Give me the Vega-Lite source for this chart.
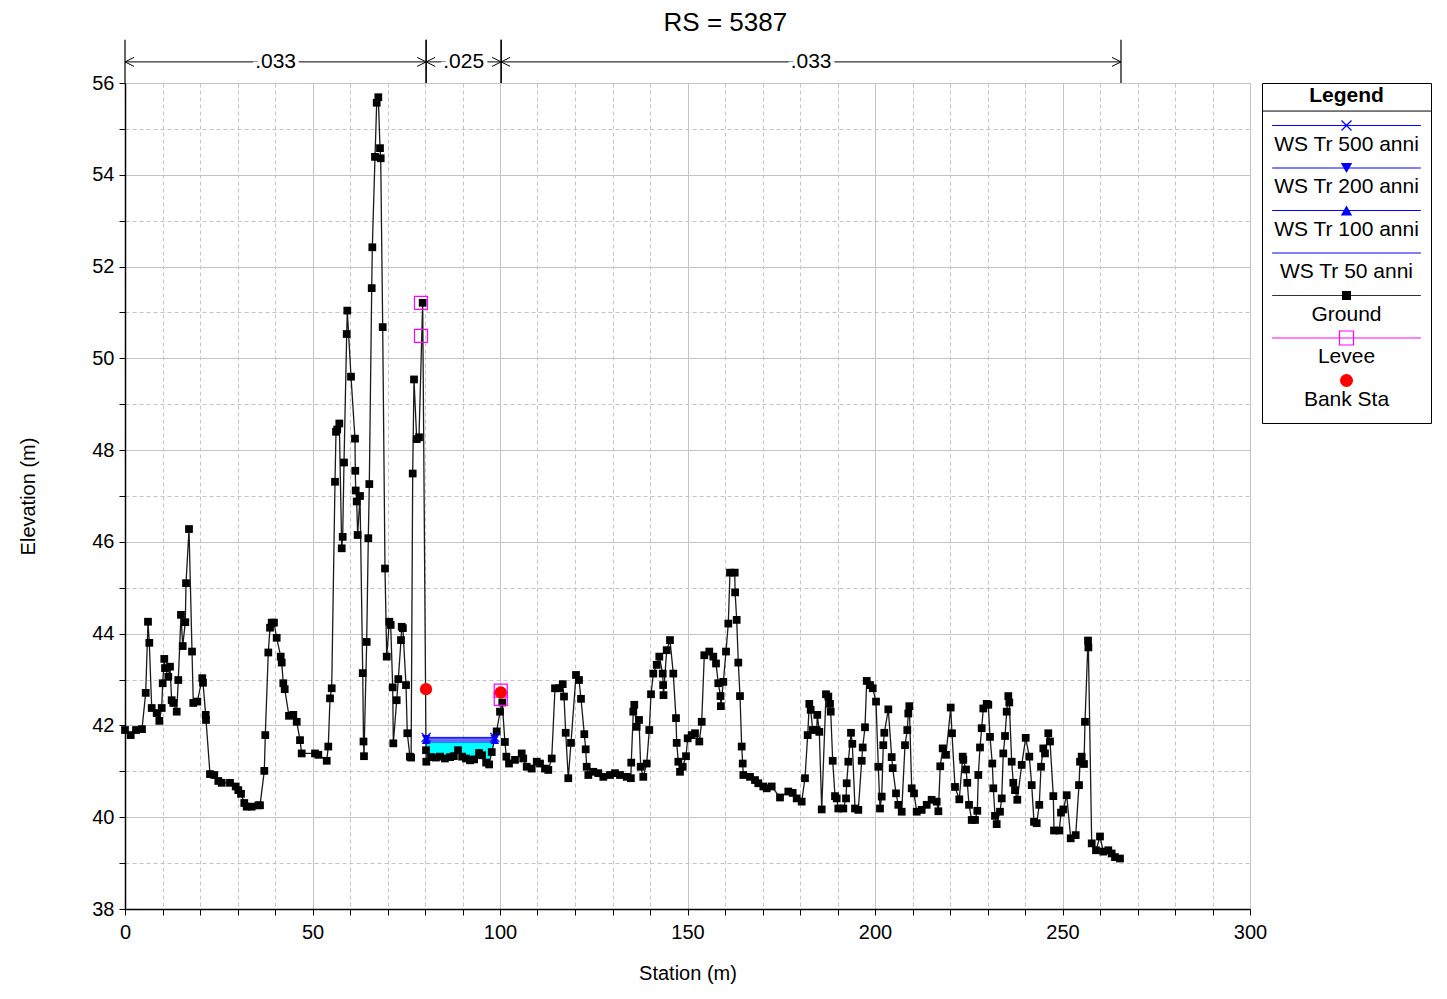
{
 "$schema": "https://vega.github.io/schema/vega-lite/v6.json",
 "background": "white",
 "padding": {"left": 18, "top": 10, "right": 5, "bottom": 5},
 "title": {"text": "RS = 5387", "fontSize": 26, "font": "Liberation Sans", "fontWeight": "normal", "anchor": "middle", "color": "black", "offset": 3},
 "config": {"font": "Liberation Sans", "view": {"stroke": null}},
 "datasets": {
  "ground": [
   {"s":0,"e":41.9},{"s":1.52,"e":41.79},{"s":2.93,"e":41.9},{"s":4.53,"e":41.92},{"s":5.52,"e":42.71},{"s":6.13,"e":44.26},{"s":6.48,"e":43.8},{"s":7.12,"e":42.38},{"s":8.45,"e":42.27},{"s":9.15,"e":42.1},{"s":9.79,"e":42.38},{"s":10.05,"e":42.92},{"s":10.48,"e":43.45},{"s":10.67,"e":43.25},{"s":11.55,"e":43.06},{"s":12.0,"e":43.28},{"s":12.45,"e":42.55},{"s":12.88,"e":42.49},{"s":13.79,"e":42.3},{"s":14.21,"e":42.99},{"s":14.93,"e":44.41},{"s":15.39,"e":43.73},{"s":16.08,"e":44.25},{"s":16.27,"e":45.1},{"s":17.07,"e":46.28},{"s":17.87,"e":43.61},{"s":18.21,"e":42.49},{"s":19.28,"e":42.52},{"s":20.61,"e":43.03},{"s":20.8,"e":42.93},{"s":21.52,"e":42.23},{"s":21.6,"e":42.12},{"s":22.67,"e":40.94},{"s":23.81,"e":40.92},{"s":24.88,"e":40.79},{"s":25.79,"e":40.75},{"s":28.0,"e":40.75},{"s":29.52,"e":40.67},{"s":30.21,"e":40.59},{"s":30.93,"e":40.51},{"s":31.81,"e":40.31},{"s":32.45,"e":40.23},{"s":33.79,"e":40.23},{"s":35.55,"e":40.26},{"s":36.0,"e":40.26},{"s":37.15,"e":41.01},{"s":37.41,"e":41.79},{"s":38.21,"e":43.59},{"s":38.67,"e":44.13},{"s":39.12,"e":44.24},{"s":39.73,"e":44.24},{"s":40.45,"e":43.91},{"s":41.52,"e":43.5},{"s":41.79,"e":43.37},{"s":42.21,"e":42.92},{"s":42.59,"e":42.79},{"s":43.73,"e":42.21},{"s":44.88,"e":42.23},{"s":45.79,"e":42.08},{"s":46.67,"e":41.68},{"s":47.12,"e":41.39},{"s":50.67,"e":41.39},{"s":51.55,"e":41.36},{"s":53.79,"e":41.23},{"s":54.21,"e":41.54},{"s":54.67,"e":42.59},{"s":55.12,"e":42.81},{"s":56.0,"e":47.31},{"s":56.27,"e":48.4},{"s":56.6,"e":48.45},{"s":57.15,"e":48.58},{"s":57.79,"e":45.86},{"s":58.05,"e":46.11},{"s":58.4,"e":47.73},{"s":59.12,"e":50.53},{"s":59.28,"e":51.04},{"s":60.27,"e":49.6},{"s":61.33,"e":48.25},{"s":61.41,"e":47.55},{"s":61.52,"e":47.12},{"s":61.79,"e":46.88},{"s":62.04,"e":46.15},{"s":62.67,"e":47.0},{"s":63.39,"e":43.14},{"s":63.6,"e":41.65},{"s":63.73,"e":41.33},{"s":64.45,"e":43.82},{"s":64.88,"e":46.08},{"s":65.15,"e":47.26},{"s":65.79,"e":51.53},{"s":65.95,"e":52.42},{"s":66.67,"e":54.39},{"s":67.12,"e":55.57},{"s":67.55,"e":55.69},{"s":68.0,"e":54.58},{"s":68.19,"e":54.36},{"s":68.72,"e":50.68},{"s":69.33,"e":45.42},{"s":69.79,"e":43.5},{"s":70.48,"e":44.26},{"s":70.85,"e":44.19},{"s":71.39,"e":42.83},{"s":71.55,"e":41.61},{"s":72.45,"e":42.55},{"s":72.88,"e":43.01},{"s":73.6,"e":43.86},{"s":73.79,"e":44.15},{"s":74.1,"e":44.12},{"s":74.93,"e":42.88},{"s":75.28,"e":41.83},{"s":75.98,"e":41.32},{"s":76.3,"e":41.3},{"s":76.72,"e":47.49},{"s":77.07,"e":49.54},{"s":77.79,"e":48.24},{"s":78.4,"e":48.28},{"s":79.38,"e":51.21},{"s":80.27,"e":41.46},{"s":80.35,"e":41.21},{"s":81.6,"e":41.31},{"s":82.9,"e":41.3},{"s":84.0,"e":41.32},{"s":85.3,"e":41.28},{"s":86.7,"e":41.31},{"s":87.7,"e":41.33},{"s":88.8,"e":41.46},{"s":89.9,"e":41.32},{"s":90.9,"e":41.28},{"s":92.0,"e":41.24},{"s":93.1,"e":41.26},{"s":94.4,"e":41.4},{"s":95.2,"e":41.35},{"s":96.3,"e":41.19},{"s":97.1,"e":41.15},{"s":97.8,"e":41.42},{"s":99.1,"e":41.87},{"s":100.0,"e":42.3},{"s":100.6,"e":42.5},{"s":101.3,"e":41.64},{"s":101.7,"e":41.32},{"s":102.4,"e":41.17},{"s":104.0,"e":41.25},{"s":105.79,"e":41.39},{"s":106.2,"e":41.28},{"s":107.12,"e":41.1},{"s":108.45,"e":41.06},{"s":109.79,"e":41.21},{"s":110.67,"e":41.17},{"s":112.0,"e":41.06},{"s":112.88,"e":41.03},{"s":113.79,"e":41.28},{"s":114.67,"e":42.81},{"s":115.81,"e":42.81},{"s":116.72,"e":42.9},{"s":117.07,"e":42.63},{"s":117.52,"e":41.84},{"s":118.21,"e":40.85},{"s":118.93,"e":41.62},{"s":120.27,"e":43.1},{"s":121.07,"e":42.99},{"s":121.6,"e":42.58},{"s":122.48,"e":41.81},{"s":122.85,"e":41.48},{"s":123.12,"e":41.1},{"s":123.55,"e":40.92},{"s":124.88,"e":40.99},{"s":126.21,"e":40.96},{"s":127.55,"e":40.88},{"s":129.33,"e":40.92},{"s":130.67,"e":40.96},{"s":132.0,"e":40.92},{"s":133.79,"e":40.88},{"s":134.9,"e":40.85},{"s":135.0,"e":41.19},{"s":135.55,"e":42.3},{"s":135.81,"e":42.45},{"s":136.45,"e":41.97},{"s":137.07,"e":42.12},{"s":137.52,"e":41.1},{"s":138.21,"e":40.88},{"s":139.12,"e":41.17},{"s":139.81,"e":41.9},{"s":140.27,"e":42.68},{"s":140.88,"e":43.13},{"s":141.79,"e":43.32},{"s":142.48,"e":43.5},{"s":143.39,"e":43.13},{"s":143.5,"e":42.88},{"s":143.6,"e":42.66},{"s":144.45,"e":43.64},{"s":145.33,"e":43.86},{"s":146.21,"e":43.13},{"s":146.93,"e":42.16},{"s":147.12,"e":41.62},{"s":147.55,"e":41.21},{"s":148.0,"e":40.99},{"s":148.72,"e":41.1},{"s":149.6,"e":41.33},{"s":150.05,"e":41.72},{"s":151.12,"e":41.79},{"s":152.0,"e":41.83},{"s":153.15,"e":41.65},{"s":153.79,"e":42.08},{"s":154.48,"e":43.53},{"s":155.81,"e":43.61},{"s":156.88,"e":43.5},{"s":157.6,"e":43.35},{"s":158.21,"e":42.92},{"s":158.8,"e":42.64},{"s":158.9,"e":42.42},{"s":159.55,"e":42.95},{"s":160.27,"e":43.61},{"s":160.88,"e":44.22},{"s":161.33,"e":45.33},{"s":162.6,"e":45.33},{"s":162.7,"e":44.9},{"s":163.12,"e":44.3},{"s":163.55,"e":43.37},{"s":164.0,"e":42.64},{"s":164.45,"e":41.54},{"s":164.72,"e":41.17},{"s":164.88,"e":40.92},{"s":166.67,"e":40.88},{"s":168.0,"e":40.81},{"s":168.88,"e":40.74},{"s":170.21,"e":40.67},{"s":171.12,"e":40.63},{"s":172.45,"e":40.67},{"s":174.67,"e":40.43},{"s":176.88,"e":40.56},{"s":178.05,"e":40.53},{"s":179.12,"e":40.41},{"s":180.45,"e":40.34},{"s":181.33,"e":40.85},{"s":182.05,"e":41.79},{"s":182.48,"e":42.47},{"s":182.85,"e":42.34},{"s":183.39,"e":41.9},{"s":184.45,"e":41.9},{"s":184.61,"e":42.23},{"s":185.15,"e":41.86},{"s":185.79,"e":40.17},{"s":186.93,"e":42.68},{"s":187.55,"e":42.63},{"s":188.0,"e":42.47},{"s":188.19,"e":42.3},{"s":188.72,"e":41.23},{"s":189.33,"e":40.46},{"s":189.79,"e":40.41},{"s":190.21,"e":40.19},{"s":191.55,"e":40.19},{"s":192.27,"e":40.41},{"s":192.45,"e":40.74},{"s":192.88,"e":41.21},{"s":193.6,"e":41.84},{"s":193.95,"e":41.6},{"s":194.67,"e":40.19},{"s":195.55,"e":40.16},{"s":196.45,"e":41.23},{"s":196.72,"e":41.52},{"s":197.33,"e":41.96},{"s":197.79,"e":42.97},{"s":198.67,"e":42.88},{"s":199.39,"e":42.81},{"s":200.27,"e":42.52},{"s":200.88,"e":41.1},{"s":201.33,"e":40.19},{"s":201.79,"e":40.45},{"s":202.21,"e":41.57},{"s":202.48,"e":41.84},{"s":203.55,"e":42.35},{"s":204.45,"e":41.31},{"s":204.72,"e":41.07},{"s":205.6,"e":40.52},{"s":206.21,"e":40.27},{"s":207.12,"e":40.12},{"s":208.0,"e":41.57},{"s":208.61,"e":41.9},{"s":208.88,"e":42.26},{"s":209.15,"e":42.42},{"s":209.79,"e":40.63},{"s":210.4,"e":40.52},{"s":211.12,"e":40.12},{"s":212.45,"e":40.16},{"s":213.79,"e":40.27},{"s":215.1,"e":40.38},{"s":216.45,"e":40.34},{"s":216.9,"e":40.13},{"s":217.4,"e":41.11},{"s":218.05,"e":41.5},{"s":218.93,"e":41.36},{"s":220.19,"e":42.39},{"s":220.53,"e":41.83},{"s":221.33,"e":40.66},{"s":222.48,"e":40.39},{"s":223.39,"e":41.32},{"s":223.55,"e":41.25},{"s":224.27,"e":41.04},{"s":224.61,"e":40.75},{"s":225.07,"e":40.27},{"s":225.79,"e":39.94},{"s":226.67,"e":39.94},{"s":227.28,"e":40.14},{"s":227.55,"e":40.92},{"s":228.0,"e":41.52},{"s":228.45,"e":41.94},{"s":228.88,"e":42.37},{"s":229.79,"e":42.47},{"s":230.21,"e":42.45},{"s":230.67,"e":41.75},{"s":231.28,"e":41.17},{"s":231.55,"e":40.63},{"s":232.0,"e":40.03},{"s":232.45,"e":39.85},{"s":233.33,"e":40.12},{"s":233.79,"e":40.41},{"s":234.21,"e":41.39},{"s":234.67,"e":41.77},{"s":235.12,"e":42.3},{"s":235.55,"e":42.64},{"s":235.81,"e":42.5},{"s":236.45,"e":41.21},{"s":236.88,"e":40.75},{"s":237.33,"e":40.59},{"s":237.95,"e":40.38},{"s":239.12,"e":41.14},{"s":240.19,"e":41.73},{"s":241.15,"e":41.32},{"s":241.79,"e":40.7},{"s":242.4,"e":39.9},{"s":243.12,"e":39.87},{"s":243.81,"e":40.27},{"s":244.27,"e":41.1},{"s":244.88,"e":41.5},{"s":245.33,"e":41.39},{"s":246.21,"e":41.83},{"s":246.67,"e":41.65},{"s":247.55,"e":40.46},{"s":247.73,"e":39.71},{"s":249.15,"e":39.71},{"s":249.6,"e":40.1},{"s":250.21,"e":40.17},{"s":251.12,"e":40.48},{"s":252.19,"e":39.54},{"s":253.52,"e":39.61},{"s":254.4,"e":40.7},{"s":254.67,"e":41.21},{"s":255.12,"e":41.32},{"s":255.73,"e":41.16},{"s":256.0,"e":42.08},{"s":256.8,"e":43.85},{"s":256.9,"e":43.7},{"s":257.79,"e":39.43},{"s":258.93,"e":39.28},{"s":260.0,"e":39.58},{"s":260.88,"e":39.25},{"s":262.21,"e":39.28},{"s":263.12,"e":39.21},{"s":264.0,"e":39.13},{"s":265.33,"e":39.1}
  ],
  "water": [
   {"s":80.3,"e":41.21,"ws":41.64},{"s":81.6,"e":41.31,"ws":41.64},{"s":82.9,"e":41.3,"ws":41.64},{"s":84.0,"e":41.32,"ws":41.64},{"s":85.3,"e":41.28,"ws":41.64},{"s":86.7,"e":41.31,"ws":41.64},{"s":87.7,"e":41.33,"ws":41.64},{"s":88.8,"e":41.46,"ws":41.64},{"s":89.9,"e":41.32,"ws":41.64},{"s":90.9,"e":41.28,"ws":41.64},{"s":92.0,"e":41.24,"ws":41.64},{"s":93.1,"e":41.26,"ws":41.64},{"s":94.4,"e":41.4,"ws":41.64},{"s":95.2,"e":41.35,"ws":41.64},{"s":96.3,"e":41.19,"ws":41.64},{"s":97.1,"e":41.15,"ws":41.64},{"s":97.8,"e":41.42,"ws":41.64},{"s":98.5,"e":41.64,"ws":41.64}
  ],
  "ws": [
   {"p":"WS Tr 500 anni","s":80.3,"s2":98.6,"e":41.74},
   {"p":"WS Tr 200 anni","s":80.3,"s2":98.6,"e":41.71},
   {"p":"WS Tr 100 anni","s":80.3,"s2":98.6,"e":41.68},
   {"p":"WS Tr 50 anni","s":80.3,"s2":98.5,"e":41.64}
  ],
  "levee": [{"s":78.93,"e":51.21},{"s":78.93,"e":50.49},{"s":100.2,"e":42.76},{"s":100.2,"e":42.58}],
  "bank": [{"s":80.27,"e":42.79},{"s":100.2,"e":42.72}],
  "nvals": [{"s":0,"s2":80.3,"n":".033"},{"s":80.3,"s2":100.3,"n":".025"},{"s":100.3,"s2":265.6,"n":".033"}],
  "legend": [
   {"label":"WS Tr 500 anni","row":0},{"label":"WS Tr 200 anni","row":1},{"label":"WS Tr 100 anni","row":2},{"label":"WS Tr 50 anni","row":3},{"label":"Ground","row":4},{"label":"Levee","row":5},{"label":"Bank Sta","row":6}
  ]
 },
 "hconcat": [
  {
   "width": 1125,
   "height": 826,
   "layer": [
    {
     "data": {"name": "water"},
     "mark": {"type": "area", "color": "#00ffff", "opacity": 1},
     "encoding": {
      "x": {"field": "s", "type": "quantitative", "title": "Station (m)", "scale": {"domain": [0, 300], "nice": false, "zero": false}},
      "y": {"field": "ws", "type": "quantitative", "title": "Elevation (m)", "scale": {"domain": [38, 56], "nice": false, "zero": false}},
      "y2": {"field": "e"}
     }
    },
    {
     "data": {"name": "ws"},
     "mark": {"type": "rule", "color": "#0000ff", "strokeWidth": 1},
     "encoding": {
      "x": {"field": "s", "type": "quantitative", "title": "Station (m)", "scale": {"domain": [0, 300], "nice": false, "zero": false}},
      "x2": {"field": "s2"},
      "y": {"field": "e", "type": "quantitative", "title": "Elevation (m)", "scale": {"domain": [38, 56], "nice": false, "zero": false}}
     }
    },
    {
     "data": {"name": "ground"},
     "mark": {"type": "line", "color": "#1a1a1a", "strokeWidth": 1.3},
     "encoding": {
      "x": {"field": "s", "type": "quantitative", "title": "Station (m)", "scale": {"domain": [0, 300], "nice": false, "zero": false},
       "axis": {"values": [0,10,20,30,40,50,60,70,80,90,100,110,120,130,140,150,160,170,180,190,200,210,220,230,240,250,260,270,280,290,300],
        "tickCount": 100, "format": "d",
        "labelExpr": "datum.value % 50 === 0 ? datum.label : ''",
        "grid": true, "gridColor": "#c4c4c4", "gridWidth": 1,
        "gridDash": {"condition": {"test": "datum.value % 50 === 0", "value": []}, "value": [4, 3]},
        "domainColor": "#000000", "domainWidth": 1.5, "tickColor": "#000000", "tickSize": 6,
        "labelFontSize": 20, "labelColor": "#000000", "labelPadding": 7, "labelFlush": false, "labelOverlap": false, "labelFont": "Liberation Sans",
        "title": "Station (m)", "titleFontSize": 20, "titleFontWeight": "normal", "titleColor": "#000000", "titlePadding": 21, "titleFont": "Liberation Sans"}},
      "y": {"field": "e", "type": "quantitative", "title": "Elevation (m)", "scale": {"domain": [38, 56], "nice": false, "zero": false},
       "axis": {"values": [38,39,40,41,42,43,44,45,46,47,48,49,50,51,52,53,54,55,56],
        "tickCount": 100, "format": "d",
        "labelExpr": "datum.value % 2 === 0 ? datum.label : ''",
        "grid": true, "gridColor": "#c4c4c4", "gridWidth": 1,
        "gridDash": {"condition": {"test": "datum.value % 2 === 0", "value": []}, "value": [4, 3]},
        "domainColor": "#000000", "domainWidth": 1.5, "tickColor": "#000000", "tickSize": 6,
        "labelFontSize": 20, "labelColor": "#000000", "labelPadding": 5, "labelOverlap": false, "labelFont": "Liberation Sans",
        "title": "Elevation (m)", "titleFontSize": 20, "titleFontWeight": "normal", "titleColor": "#000000", "titlePadding": 53, "titleFont": "Liberation Sans"}}
     }
    },
    {
     "data": {"name": "ground"},
     "mark": {"type": "point", "shape": "square", "filled": true, "color": "#000000", "size": 60, "opacity": 1},
     "encoding": {
      "x": {"field": "s", "type": "quantitative", "title": "Station (m)", "scale": {"domain": [0, 300], "nice": false, "zero": false}},
      "y": {"field": "e", "type": "quantitative", "title": "Elevation (m)", "scale": {"domain": [38, 56], "nice": false, "zero": false}}
     }
    },
    {
     "data": {"name": "ws"},
     "transform": [{"filter": "datum.p === 'WS Tr 500 anni'"}, {"fold": ["s", "s2"], "as": ["end", "sx"]}],
     "mark": {"type": "point", "shape": "M-1,-1L1,1M-1,1L1,-1", "filled": false, "stroke": "#0000ff", "strokeWidth": 1.4, "size": 81, "opacity": 1},
     "encoding": {
      "x": {"field": "sx", "type": "quantitative", "title": "Station (m)", "scale": {"domain": [0, 300], "nice": false, "zero": false}},
      "y": {"field": "e", "type": "quantitative", "title": "Elevation (m)", "scale": {"domain": [38, 56], "nice": false, "zero": false}}
     }
    },
    {
     "data": {"name": "ws"},
     "transform": [{"filter": "datum.p === 'WS Tr 200 anni' || datum.p === 'WS Tr 100 anni'"}, {"fold": ["s", "s2"], "as": ["end", "sx"]}],
     "mark": {"type": "point", "filled": true, "color": "#0000ff", "size": 75, "opacity": 1},
     "encoding": {
      "x": {"field": "sx", "type": "quantitative", "title": "Station (m)", "scale": {"domain": [0, 300], "nice": false, "zero": false}},
      "y": {"field": "e", "type": "quantitative", "title": "Elevation (m)", "scale": {"domain": [38, 56], "nice": false, "zero": false}},
      "shape": {"field": "p", "type": "nominal", "scale": {"domain": ["WS Tr 200 anni", "WS Tr 100 anni"], "range": ["triangle-down", "triangle-up"]}, "legend": null}
     }
    },
    {
     "data": {"name": "levee"},
     "mark": {"type": "point", "shape": "square", "filled": false, "stroke": "#ff00ff", "strokeWidth": 1.2, "size": 170, "opacity": 1},
     "encoding": {
      "x": {"field": "s", "type": "quantitative", "title": "Station (m)", "scale": {"domain": [0, 300], "nice": false, "zero": false}},
      "y": {"field": "e", "type": "quantitative", "title": "Elevation (m)", "scale": {"domain": [38, 56], "nice": false, "zero": false}}
     }
    },
    {
     "data": {"name": "bank"},
     "mark": {"type": "point", "shape": "circle", "filled": true, "color": "#ff0000", "size": 150, "opacity": 1},
     "encoding": {
      "x": {"field": "s", "type": "quantitative", "title": "Station (m)", "scale": {"domain": [0, 300], "nice": false, "zero": false}},
      "y": {"field": "e", "type": "quantitative", "title": "Elevation (m)", "scale": {"domain": [38, 56], "nice": false, "zero": false}}
     }
    },
    {
     "data": {"name": "nvals"},
     "mark": {"type": "rule", "color": "#000000", "strokeWidth": 1.2},
     "encoding": {
      "x": {"field": "s", "type": "quantitative", "title": "Station (m)", "scale": {"domain": [0, 300], "nice": false, "zero": false}},
      "y": {"datum": 56, "type": "quantitative", "title": "Elevation (m)", "scale": {"domain": [38, 56], "nice": false, "zero": false}},
      "y2": {"datum": 56.94}
     }
    },
    {
     "data": {"name": "nvals"},
     "mark": {"type": "rule", "color": "#000000", "strokeWidth": 1.2},
     "encoding": {
      "x": {"field": "s2", "type": "quantitative", "title": "Station (m)", "scale": {"domain": [0, 300], "nice": false, "zero": false}},
      "y": {"datum": 56, "type": "quantitative", "title": "Elevation (m)", "scale": {"domain": [38, 56], "nice": false, "zero": false}},
      "y2": {"datum": 56.94}
     }
    },
    {
     "data": {"name": "nvals"},
     "mark": {"type": "rule", "color": "#000000", "strokeWidth": 1},
     "encoding": {
      "x": {"field": "s", "type": "quantitative", "title": "Station (m)", "scale": {"domain": [0, 300], "nice": false, "zero": false}},
      "x2": {"field": "s2"},
      "y": {"datum": 56.46, "type": "quantitative", "title": "Elevation (m)", "scale": {"domain": [38, 56], "nice": false, "zero": false}}
     }
    },
    {
     "data": {"name": "nvals"},
     "mark": {"type": "point", "shape": "M1.8,-0.9L0,0L1.8,0.9", "filled": false, "stroke": "#000000", "strokeWidth": 1, "size": 100, "opacity": 1},
     "encoding": {
      "x": {"field": "s", "type": "quantitative", "title": "Station (m)", "scale": {"domain": [0, 300], "nice": false, "zero": false}},
      "y": {"datum": 56.46, "type": "quantitative", "title": "Elevation (m)", "scale": {"domain": [38, 56], "nice": false, "zero": false}}
     }
    },
    {
     "data": {"name": "nvals"},
     "mark": {"type": "point", "shape": "M-1.8,-0.9L0,0L-1.8,0.9", "filled": false, "stroke": "#000000", "strokeWidth": 1, "size": 100, "opacity": 1},
     "encoding": {
      "x": {"field": "s2", "type": "quantitative", "title": "Station (m)", "scale": {"domain": [0, 300], "nice": false, "zero": false}},
      "y": {"datum": 56.46, "type": "quantitative", "title": "Elevation (m)", "scale": {"domain": [38, 56], "nice": false, "zero": false}}
     }
    },
    {
     "data": {"name": "nvals"},
     "transform": [{"calculate": "(datum.s + datum.s2) / 2", "as": "m"}],
     "mark": {"type": "text", "fontSize": 21, "fill": "white", "stroke": "white", "strokeWidth": 8, "baseline": "middle", "align": "center"},
     "encoding": {
      "x": {"field": "m", "type": "quantitative", "title": "Station (m)", "scale": {"domain": [0, 300], "nice": false, "zero": false}},
      "y": {"datum": 56.46, "type": "quantitative", "title": "Elevation (m)", "scale": {"domain": [38, 56], "nice": false, "zero": false}},
      "text": {"field": "n"}
     }
    },
    {
     "data": {"name": "nvals"},
     "transform": [{"calculate": "(datum.s + datum.s2) / 2", "as": "m"}],
     "mark": {"type": "text", "fontSize": 21, "color": "#000000", "baseline": "middle", "align": "center"},
     "encoding": {
      "x": {"field": "m", "type": "quantitative", "title": "Station (m)", "scale": {"domain": [0, 300], "nice": false, "zero": false}},
      "y": {"datum": 56.46, "type": "quantitative", "title": "Elevation (m)", "scale": {"domain": [38, 56], "nice": false, "zero": false}},
      "text": {"field": "n"}
     }
    }
   ]
  },
  {
   "width": 169,
   "height": 340,
   "view": {"stroke": "#000000", "strokeWidth": 1},
   "data": {"name": "legend"},
   "layer": [
    {
     "data": {"values": [{"h": "Legend"}]},
     "mark": {"type": "text", "fontSize": 21, "fontWeight": "bold", "color": "#000000", "baseline": "middle", "align": "center"},
     "encoding": {
      "x": {"datum": 0.5, "type": "quantitative", "scale": {"domain": [0, 1], "nice": false, "zero": false}, "axis": null},
      "y": {"datum": -0.69, "type": "quantitative", "scale": {"domain": [-1, 7], "reverse": true, "nice": false, "zero": false}, "axis": null},
      "text": {"field": "h"}
     }
    },
    {
     "data": {"values": [{"h": "Legend"}]},
     "mark": {"type": "rule", "color": "#000000", "strokeWidth": 1},
     "encoding": {
      "x": {"datum": 0, "type": "quantitative", "scale": {"domain": [0, 1], "nice": false, "zero": false}, "axis": null},
      "x2": {"datum": 1},
      "y": {"datum": -0.34, "type": "quantitative", "scale": {"domain": [-1, 7], "reverse": true, "nice": false, "zero": false}, "axis": null}
     }
    },
    {
     "transform": [{"filter": "datum.row < 6"}],
     "mark": {"type": "rule", "strokeWidth": 1.2},
     "encoding": {
      "x": {"datum": 0.06, "type": "quantitative", "scale": {"domain": [0, 1], "nice": false, "zero": false}, "axis": null},
      "x2": {"datum": 0.94},
      "y": {"field": "row", "type": "quantitative", "scale": {"domain": [-1, 7], "reverse": true, "nice": false, "zero": false}, "axis": null},
      "color": {"field": "label", "type": "nominal", "scale": {"domain": ["WS Tr 500 anni", "WS Tr 200 anni", "WS Tr 100 anni", "WS Tr 50 anni", "Ground", "Levee"], "range": ["#0000ff", "#0000ff", "#0000ff", "#0000ff", "#333333", "#ff00ff"]}, "legend": null}
     }
    },
    {
     "transform": [{"filter": "datum.label === 'WS Tr 500 anni'"}],
     "mark": {"type": "point", "shape": "M-1,-1L1,1M-1,1L1,-1", "filled": false, "stroke": "#0000ff", "strokeWidth": 1.3, "size": 100, "opacity": 1},
     "encoding": {
      "x": {"datum": 0.5, "type": "quantitative", "scale": {"domain": [0, 1], "nice": false, "zero": false}, "axis": null},
      "y": {"field": "row", "type": "quantitative", "scale": {"domain": [-1, 7], "reverse": true, "nice": false, "zero": false}, "axis": null}
     }
    },
    {
     "transform": [{"filter": "datum.label === 'WS Tr 200 anni' || datum.label === 'WS Tr 100 anni'"}],
     "mark": {"type": "point", "filled": true, "color": "#0000ff", "size": 130, "opacity": 1},
     "encoding": {
      "x": {"datum": 0.5, "type": "quantitative", "scale": {"domain": [0, 1], "nice": false, "zero": false}, "axis": null},
      "y": {"field": "row", "type": "quantitative", "scale": {"domain": [-1, 7], "reverse": true, "nice": false, "zero": false}, "axis": null},
      "shape": {"field": "label", "type": "nominal", "scale": {"domain": ["WS Tr 200 anni", "WS Tr 100 anni"], "range": ["triangle-down", "triangle-up"]}, "legend": null}
     }
    },
    {
     "transform": [{"filter": "datum.label === 'Ground'"}],
     "mark": {"type": "point", "shape": "square", "filled": true, "color": "#000000", "size": 81, "opacity": 1},
     "encoding": {
      "x": {"datum": 0.5, "type": "quantitative", "scale": {"domain": [0, 1], "nice": false, "zero": false}, "axis": null},
      "y": {"field": "row", "type": "quantitative", "scale": {"domain": [-1, 7], "reverse": true, "nice": false, "zero": false}, "axis": null}
     }
    },
    {
     "transform": [{"filter": "datum.label === 'Levee'"}],
     "mark": {"type": "point", "shape": "square", "filled": false, "stroke": "#ff00ff", "strokeWidth": 1.2, "size": 196, "opacity": 1},
     "encoding": {
      "x": {"datum": 0.5, "type": "quantitative", "scale": {"domain": [0, 1], "nice": false, "zero": false}, "axis": null},
      "y": {"field": "row", "type": "quantitative", "scale": {"domain": [-1, 7], "reverse": true, "nice": false, "zero": false}, "axis": null}
     }
    },
    {
     "transform": [{"filter": "datum.label === 'Bank Sta'"}],
     "mark": {"type": "point", "shape": "circle", "filled": true, "color": "#ff0000", "size": 170, "opacity": 1},
     "encoding": {
      "x": {"datum": 0.5, "type": "quantitative", "scale": {"domain": [0, 1], "nice": false, "zero": false}, "axis": null},
      "y": {"field": "row", "type": "quantitative", "scale": {"domain": [-1, 7], "reverse": true, "nice": false, "zero": false}, "axis": null}
     }
    },
    {
     "mark": {"type": "text", "fontSize": 21, "color": "#000000", "baseline": "middle", "align": "center", "dy": 19},
     "encoding": {
      "x": {"datum": 0.5, "type": "quantitative", "scale": {"domain": [0, 1], "nice": false, "zero": false}, "axis": null},
      "y": {"field": "row", "type": "quantitative", "scale": {"domain": [-1, 7], "reverse": true, "nice": false, "zero": false}, "axis": null},
      "text": {"field": "label"}
     }
    }
   ]
  }
 ],
 "spacing": 12,
 "bounds": "flush"
}
